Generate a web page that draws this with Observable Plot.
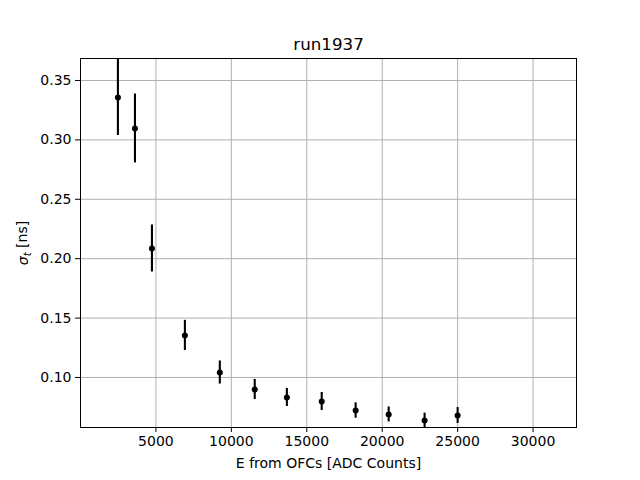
<!DOCTYPE html>
<html>
<head>
<meta charset="utf-8">
<script src="https://cdn.jsdelivr.net/npm/d3@7"></script>
<script src="https://cdn.jsdelivr.net/npm/@observablehq/plot@0.6"></script>
<style>
  html, body { margin: 0; padding: 0; background: #fff; }
  svg { font-family: "DejaVu Sans", sans-serif; }
</style>
</head>
<body>
<div id="chart"></div>
<script>
const title = "run1937";
const energy = [2480, 3610, 4735, 6920, 9235, 11550, 13680, 15990, 18240, 20430, 22810, 25000];
const sigma  = [0.3357, 0.3096, 0.2086, 0.1354, 0.1042, 0.0899, 0.0832, 0.0798, 0.0722, 0.0689, 0.0638, 0.0680];
const sigmaErr = [0.0320, 0.0290, 0.0198, 0.0127, 0.0097, 0.0084, 0.0076, 0.0076, 0.0065, 0.0063, 0.0062, 0.0067];
const xTicks = [5000, 10000, 15000, 20000, 25000, 30000];
const yTicks = [0.10, 0.15, 0.20, 0.25, 0.30, 0.35];

const data = energy.map((e, i) => ({e, s: sigma[i], lo: sigma[i] - sigmaErr[i], hi: sigma[i] + sigmaErr[i]}));

const plot = Plot.plot({
  width: 640,
  height: 480,
  marginLeft: 80,
  marginRight: 64,
  marginTop: 58,
  marginBottom: 53,
  style: {fontFamily: "DejaVu Sans, sans-serif", fontSize: "14px", color: "#000", background: "#fff"},
  x: {domain: [0, 32880], ticks: xTicks, tickFormat: d3.format("d"), tickSize: 5, tickPadding: 4, label: "E from OFCs [ADC Counts]", labelArrow: "none", labelAnchor: "center", labelOffset: 40},
  y: {domain: [0.0579, 0.3685], ticks: yTicks, tickFormat: d3.format(".2f"), tickSize: 5, tickPadding: 4, label: "σt [ns]", labelArrow: "none", labelAnchor: "center", labelOffset: 62},
  marks: [
    Plot.gridX(xTicks, {stroke: "#b0b0b0", strokeOpacity: 1, strokeWidth: 1}),
    Plot.gridY(yTicks, {stroke: "#b0b0b0", strokeOpacity: 1, strokeWidth: 1}),
    Plot.ruleX(data, {x: "e", y1: "lo", y2: "hi", stroke: "#000", strokeWidth: 2.1, clip: true}),
    Plot.dot(data, {x: "e", y: "s", r: 3, fill: "#000", stroke: "none", clip: true}),
    Plot.frame({stroke: "#000", strokeWidth: 1}),
    Plot.text([title], {frameAnchor: "top", dy: -20, fontSize: 16.7, fill: "#000", text: d => d})
  ]
});

// math-style subscript t in y label, remove any arrows
d3.select(plot).selectAll("text").each(function() {
  const t = d3.select(this);
  const s = t.text();
  if (s.includes("σt")) {
    t.selectAll("*").remove();
    t.text("");
    t.append("tspan").attr("font-style", "italic").text("σ");
    t.append("tspan").attr("font-style", "italic").attr("font-size", "10px").attr("dy", "0.3em").text("t");
    t.append("tspan").attr("dy", "-0.3em").text(" [ns]");
  } else if (s.includes("E from OFCs")) {
    t.selectAll("*").remove();
    t.text("E from OFCs [ADC Counts]");
  }
});

document.getElementById("chart").appendChild(plot);
</script>
</body>
</html>
